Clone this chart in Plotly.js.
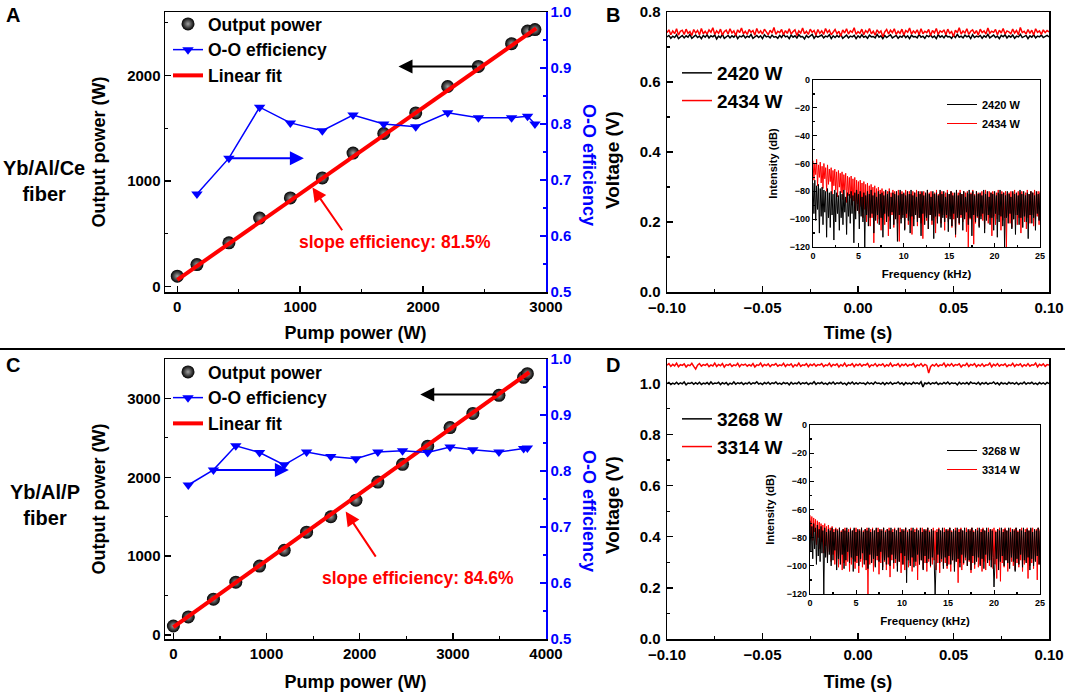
<!DOCTYPE html>
<html>
<head>
<meta charset="utf-8">
<script src="https://cdn.plot.ly/plotly-3.0.1.min.js"></script>
<style>
body { margin: 0; background: #fff; }
#fig { width: 1065px; height: 694px; }
</style>
</head>
<body>
<div id="fig"></div>
<script>
// ---- panel A : Yb/Al/Ce fiber ----
var pumpA = [0, 160, 420, 670, 920, 1180, 1430, 1680, 1940, 2200, 2450, 2720, 2850, 2910];
var outA = [100, 210, 415, 650, 840, 1030, 1265, 1450, 1645, 1895, 2085, 2300, 2420, 2434];
var effPumpA = [160, 420, 670, 920, 1180, 1430, 1680, 1940, 2200, 2450, 2720, 2850, 2910];
var effA = [0.675, 0.739, 0.830, 0.802, 0.788, 0.816, 0.800, 0.795, 0.820, 0.811, 0.811, 0.814, 0.800];
var fitXA = [0, 2920];
var fitYA = [65, 2445];

// ---- panel C : Yb/Al/P fiber ----
var pumpC = [0, 160, 430, 670, 925, 1190, 1430, 1690, 1960, 2195, 2460, 2730, 2970, 3215, 3495, 3760, 3800];
var outC = [115, 230, 455, 670, 875, 1075, 1305, 1500, 1710, 1940, 2165, 2395, 2630, 2810, 3040, 3268, 3314];
var effPumpC = [160, 430, 670, 925, 1190, 1430, 1690, 1960, 2195, 2460, 2730, 2970, 3215, 3495, 3760, 3800];
var effC = [0.775, 0.802, 0.845, 0.833, 0.811, 0.834, 0.826, 0.822, 0.834, 0.836, 0.833, 0.843, 0.838, 0.834, 0.840, 0.841];
var fitXC = [0, 3820];
var fitYC = [100, 3332];

// ---- time traces (V), one sample per ms from -0.1 s ----
var tStart = -0.1, tStep = 0.001;
var voltB2420 = [
0.729,0.733,0.725,0.731,0.727,0.735,0.724,0.730,0.733,0.726,0.732,0.728,0.736,0.725,0.730,0.734,0.727,0.731,0.724,0.733,
0.728,0.735,0.726,0.732,0.729,0.734,0.723,0.731,0.727,0.736,0.725,0.730,0.733,0.726,0.732,0.728,0.735,0.724,0.731,0.729,
0.734,0.726,0.731,0.728,0.736,0.725,0.730,0.733,0.727,0.732,0.724,0.735,0.729,0.731,0.726,0.734,0.728,0.730,0.725,0.733,
0.727,0.736,0.729,0.731,0.724,0.734,0.728,0.732,0.726,0.735,0.729,0.730,0.723,0.733,0.727,0.731,0.736,0.725,0.732,0.728,
0.730,0.734,0.726,0.731,0.729,0.735,0.724,0.732,0.727,0.733,0.728,0.736,0.725,0.730,0.734,0.726,0.731,0.729,0.733,0.724,
0.732,0.727,0.735,0.728,0.731,0.725,0.734,0.729,0.730,0.726,0.736,0.728,0.732,0.724,0.733,0.727,0.731,0.735,0.726,0.730,
0.733,0.725,0.731,0.728,0.735,0.727,0.732,0.724,0.734,0.729,0.730,0.726,0.736,0.728,0.731,0.725,0.733,0.729,0.734,0.727,
0.731,0.724,0.735,0.728,0.732,0.726,0.734,0.729,0.730,0.725,0.733,0.727,0.736,0.728,0.731,0.726,0.734,0.729,0.732,0.724,
0.735,0.727,0.731,0.729,0.733,0.725,0.732,0.728,0.736,0.726,0.730,0.734,0.727,0.731,0.724,0.733,0.729,0.735,0.726,0.732,
0.728,0.734,0.725,0.731,0.729,0.736,0.727,0.730,0.733,0.724,0.732,0.728,0.735,0.726,0.731,0.729,0.734,0.727,0.730,0.733,
0.729];
var voltB2434 = [
0.741,0.749,0.735,0.746,0.738,0.752,0.734,0.745,0.748,0.736,0.751,0.739,0.744,0.733,0.750,0.740,0.747,0.735,0.753,0.738,
0.745,0.737,0.749,0.742,0.755,0.736,0.746,0.739,0.751,0.734,0.744,0.748,0.737,0.752,0.740,0.746,0.733,0.749,0.741,0.754,
0.738,0.745,0.736,0.750,0.742,0.747,0.734,0.753,0.739,0.746,0.737,0.751,0.743,0.735,0.748,0.740,0.756,0.736,0.745,0.741,
0.750,0.735,0.747,0.739,0.752,0.737,0.744,0.749,0.733,0.746,0.740,0.754,0.738,0.745,0.736,0.751,0.742,0.747,0.734,0.750,
0.739,0.746,0.736,0.753,0.741,0.748,0.735,0.744,0.750,0.738,0.745,0.731,0.749,0.740,0.752,0.737,0.746,0.742,0.755,0.736,
0.744,0.739,0.751,0.735,0.747,0.741,0.753,0.738,0.745,0.734,0.749,0.740,0.746,0.729,0.743,0.750,0.737,0.748,0.741,0.752,
0.736,0.745,0.739,0.751,0.734,0.747,0.742,0.754,0.737,0.746,0.740,0.749,0.735,0.752,0.738,0.745,0.741,0.750,0.733,0.747,
0.740,0.753,0.736,0.746,0.742,0.749,0.735,0.751,0.739,0.744,0.730,0.748,0.741,0.755,0.737,0.746,0.740,0.752,0.736,0.745,
0.749,0.738,0.747,0.734,0.751,0.741,0.746,0.737,0.754,0.739,0.745,0.742,0.750,0.735,0.748,0.740,0.753,0.737,0.746,0.743,
0.738,0.751,0.740,0.747,0.735,0.756,0.741,0.745,0.737,0.750,0.739,0.748,0.734,0.752,0.742,0.746,0.736,0.749,0.741,0.747,
0.743];
var voltD3268 = [
0.999,1.003,0.995,1.001,0.997,1.004,0.996,1.002,0.998,1.005,0.994,1.001,0.999,1.003,0.996,1.002,0.997,1.004,0.995,1.001,
0.998,1.003,0.996,1.005,0.997,1.001,0.999,1.004,0.995,1.002,0.998,1.003,0.994,1.001,0.997,1.005,0.996,1.002,0.999,1.003,
0.995,1.001,0.998,1.004,0.996,1.002,0.999,1.006,0.997,1.001,0.995,1.003,0.998,1.004,0.996,1.002,0.999,1.005,0.997,1.001,
0.996,1.003,0.999,1.002,0.994,1.004,0.997,1.001,0.998,1.005,0.996,1.002,0.999,1.003,0.995,1.001,0.998,1.006,0.996,1.002,
0.999,1.004,0.997,1.001,0.995,1.003,0.998,1.005,0.996,1.002,0.999,1.004,0.997,1.001,0.994,1.003,0.998,1.005,0.996,1.002,
0.997,1.003,0.999,1.001,0.995,1.004,0.998,1.002,0.996,1.005,0.999,1.001,0.997,1.003,0.995,1.002,0.998,1.004,0.996,1.001,
0.999,1.005,0.997,1.002,0.994,1.003,0.998,1.001,0.996,1.004,0.999,1.002,0.997,1.006,0.986,1.001,0.998,1.003,0.996,1.002,
0.999,1.004,0.995,1.001,0.997,1.003,0.998,1.005,0.996,1.002,0.999,1.001,0.994,1.004,0.997,1.002,0.998,1.003,0.996,1.005,
0.999,1.001,0.997,1.004,0.995,1.002,0.998,1.003,0.996,1.001,0.999,1.005,0.997,1.002,0.994,1.003,0.998,1.001,0.996,1.004,
0.999,1.002,0.997,1.003,0.995,1.001,0.998,1.005,0.996,1.002,0.999,1.004,0.997,1.001,0.995,1.003,0.998,1.002,0.996,1.003,
0.999];
var voltD3314 = [
1.071,1.077,1.066,1.074,1.068,1.079,1.065,1.073,1.070,1.076,1.064,1.072,1.069,1.078,1.066,1.056,1.071,1.077,1.067,1.073,
1.070,1.076,1.065,1.072,1.068,1.079,1.066,1.074,1.069,1.077,1.063,1.073,1.070,1.076,1.066,1.072,1.069,1.078,1.065,1.074,
1.071,1.075,1.067,1.073,1.068,1.077,1.064,1.072,1.070,1.079,1.066,1.074,1.069,1.076,1.065,1.073,1.071,1.077,1.067,1.072,
1.069,1.078,1.066,1.074,1.070,1.076,1.064,1.073,1.068,1.079,1.066,1.072,1.070,1.077,1.065,1.074,1.069,1.076,1.067,1.073,
1.071,1.077,1.065,1.072,1.069,1.078,1.066,1.074,1.070,1.076,1.064,1.073,1.068,1.079,1.066,1.072,1.070,1.077,1.065,1.074,
1.069,1.076,1.067,1.073,1.071,1.078,1.064,1.072,1.069,1.077,1.066,1.074,1.070,1.076,1.065,1.073,1.068,1.079,1.066,1.072,
1.070,1.077,1.065,1.074,1.069,1.076,1.067,1.073,1.071,1.078,1.064,1.072,1.069,1.077,1.066,1.074,1.070,1.040,1.065,1.073,
1.068,1.076,1.066,1.072,1.070,1.079,1.065,1.074,1.069,1.077,1.067,1.073,1.071,1.076,1.064,1.072,1.069,1.078,1.066,1.074,
1.070,1.077,1.065,1.073,1.068,1.076,1.066,1.072,1.071,1.079,1.064,1.074,1.069,1.077,1.067,1.073,1.070,1.076,1.065,1.072,
1.069,1.078,1.066,1.074,1.070,1.076,1.065,1.073,1.068,1.077,1.067,1.072,1.071,1.079,1.064,1.074,1.069,1.076,1.066,1.073,
1.071];

// ---- inset spectra (dB), one sample per 0.1 kHz from 0 ----
var fStart = 0, fStep = 0.1;
var specB2420 = [
-74,-96,-72,-101,-76,-93,-75,-110,-78,-98, -77,-104,-79,-95,-80,-113,-78,-99,-81,-106,
-80,-97,-82,-115,-79,-102,-81,-96,-83,-108, -80,-99,-82,-104,-79,-95,-84,-111,-81,-98,
-82,-103,-80,-96,-83,-117,-81,-100,-79,-94, -82,-107,-80,-98,-84,-102,-81,-120,-83,-97,
-80,-105,-82,-99,-79,-96,-83,-110,-81,-101, -84,-97,-80,-104,-82,-99,-81,-113,-83,-96,
-79,-102,-82,-98,-80,-107,-84,-95,-81,-104, -82,-100,-80,-116,-83,-97,-79,-103,-82,-99,
-81,-108,-83,-96,-80,-101,-82,-110,-79,-98, -83,-105,-81,-97,-84,-102,-80,-99,-82,-112,
-80,-96,-83,-104,-81,-99,-79,-107,-82,-97, -84,-101,-80,-114,-82,-98,-81,-103,-83,-96,
-79,-106,-82,-99,-80,-102,-84,-97,-81,-109, -82,-100,-80,-105,-83,-96,-81,-111,-79,-99,
-83,-103,-81,-97,-82,-108,-80,-100,-84,-95, -81,-104,-79,-99,-82,-112,-80,-97,-83,-102,
-80,-98,-82,-106,-81,-100,-83,-96,-79,-110, -82,-101,-80,-97,-84,-104,-81,-99,-82,-108,
-80,-96,-83,-113,-81,-102,-79,-98,-82,-105, -81,-120,-83,-99,-80,-103,-82,-96,-84,-107,
-80,-100,-82,-111,-81,-97,-83,-104,-79,-99, -82,-106,-80,-98,-83,-102,-81,-114,-82,-97,
-80,-103,-81,-99,-83,-108,-80,-96,-82,-101, -81];
var specB2434 = [
-58,-72,-60,-68,-57,-76,-61,-70,-59,-74, -62,-78,-60,-71,-63,-80,-61,-75,-64,-73,
-63,-82,-65,-76,-64,-79,-66,-84,-65,-77, -67,-81,-66,-86,-68,-79,-67,-88,-69,-83,
-70,-85,-69,-90,-71,-87,-70,-94,-72,-89, -73,-96,-72,-91,-74,-99,-73,-93,-75,-102,
-74,-97,-76,-105,-75,-99,-77,-117,-76,-98, -78,-103,-77,-100,-79,-108,-78,-97,-80,-104,
-79,-99,-80,-112,-78,-101,-81,-97,-79,-106, -80,-98,-82,-103,-79,-116,-81,-100,-80,-97,
-82,-107,-79,-99,-81,-104,-80,-98,-82,-111, -80,-100,-81,-97,-79,-105,-82,-99,-80,-103,
-81,-114,-80,-98,-82,-101,-79,-107,-81,-97, -80,-104,-82,-99,-81,-110,-79,-100,-82,-98,
-81,-103,-80,-97,-82,-108,-81,-99,-79,-102, -82,-98,-80,-106,-81,-100,-83,-113,-80,-97,
-81,-104,-79,-99,-82,-102,-80,-98,-81,-109, -80,-120,-82,-100,-81,-97,-79,-118,-82,-103,
-80,-99,-81,-105,-82,-98,-80,-101,-81,-107, -79,-97,-82,-103,-80,-99,-81,-112,-80,-98,
-82,-104,-81,-100,-79,-97,-82,-108,-80,-101, -81,-99,-80,-120,-82,-98,-81,-103,-80,-106,
-81,-100,-79,-97,-82,-104,-80,-99,-81,-110, -80,-98,-82,-102,-81,-107,-79,-99,-82,-103,
-80,-97,-81,-105,-79,-100,-82,-98,-80,-104, -80];
var specD3268 = [
-68,-90,-72,-95,-70,-88,-73,-99,-71,-93, -74,-97,-72,-91,-75,-120,-73,-94,-76,-98,
-74,-92,-75,-100,-73,-96,-76,-89,-74,-103, -75,-95,-73,-99,-76,-92,-74,-102,-75,-96,
-73,-90,-76,-98,-74,-94,-75,-104,-73,-97, -76,-93,-74,-100,-75,-95,-73,-91,-76,-99,
-74,-96,-75,-102,-73,-92,-76,-98,-74,-95, -75,-101,-73,-93,-76,-97,-74,-90,-75,-103,
-73,-96,-76,-99,-74,-94,-75,-100,-73,-92, -76,-98,-74,-95,-75,-104,-73,-97,-76,-91,
-74,-99,-75,-93,-73,-112,-76,-96,-74,-100, -75,-94,-73,-101,-76,-97,-74,-92,-75,-99,
-73,-96,-76,-103,-74,-93,-75,-98,-73,-95, -76,-100,-74,-94,-75,-97,-120,-99,-76,-92,
-74,-98,-75,-95,-73,-102,-76,-94,-74,-100, -75,-93,-73,-99,-76,-96,-74,-104,-75,-97,
-73,-95,-76,-101,-74,-92,-75,-98,-73,-94, -76,-100,-74,-96,-75,-103,-73,-93,-76,-99,
-74,-97,-75,-94,-73,-100,-76,-95,-74,-102, -75,-92,-73,-98,-76,-96,-74,-101,-75,-94,
-115,-99,-76,-95,-74,-103,-75,-97,-73,-93, -76,-100,-74,-96,-75,-98,-73,-102,-76,-94,
-74,-97,-75,-104,-73,-95,-76,-99,-74,-92, -75,-101,-73,-96,-76,-98,-74,-94,-75,-103,
-73,-95,-76,-100,-74,-97,-75,-93,-73,-99, -75];
var specD3314 = [
-64,-78,-65,-82,-66,-76,-67,-85,-68,-80, -69,-88,-70,-83,-71,-91,-70,-86,-72,-94,
-71,-90,-73,-97,-72,-92,-74,-99,-73,-95, -74,-101,-73,-96,-75,-103,-74,-98,-73,-100,
-75,-97,-74,-104,-73,-99,-75,-95,-74,-102, -73,-98,-75,-105,-74,-97,-73,-101,-75,-96,
-74,-103,-73,-120,-75,-99,-74,-97,-73,-104, -75,-100,-74,-96,-73,-106,-75,-98,-74,-101,
-73,-97,-75,-103,-74,-99,-73,-108,-75,-96, -74,-102,-73,-98,-75,-100,-74,-97,-73,-105,
-75,-99,-74,-103,-73,-96,-75,-101,-74,-98, -73,-104,-75,-97,-74,-100,-73,-110,-75,-99,
-74,-96,-73,-102,-75,-98,-74,-104,-73,-97, -75,-101,-74,-99,-73,-96,-75,-103,-74,-98,
-73,-105,-75,-97,-74,-100,-73,-98,-75,-102, -74,-99,-73,-104,-75,-96,-74,-101,-73,-97,
-75,-112,-74,-98,-73,-103,-75,-99,-74,-96, -73,-100,-75,-97,-74,-105,-73,-98,-75,-102,
-74,-96,-73,-101,-75,-99,-74,-104,-73,-97, -75,-103,-74,-98,-73,-100,-75,-96,-74,-102,
-73,-99,-75,-109,-74,-97,-73,-111,-75,-98, -74,-101,-73,-96,-75,-104,-74,-99,-73,-97,
-75,-100,-74,-103,-73,-98,-75,-101,-74,-96, -73,-104,-75,-99,-74,-97,-73,-109,-75,-100,
-74,-98,-73,-102,-75,-96,-74,-110,-73,-99, -74];

var FONT = 'Arial, "Liberation Sans", sans-serif';
var BLUE = '#0000ff', RED = '#ff0000';

// pixel -> paper helpers (page is 1065 x 694, no margins)
function px(x) { return x / 1065; }
function py(y) { return 1 - y / 694; }

function axis(o) {
  var a = {
    showline: true, linecolor: 'black', linewidth: 1.5,
    ticks: 'inside', ticklen: 6, tickwidth: 1.5, tickcolor: 'black',
    showgrid: false, zeroline: false,
    tickfont: {family: FONT, size: 15, weight: 'bold', color: 'black'}
  };
  for (var k in o) a[k] = o[k];
  return a;
}
function minor(d, len, color) {
  return {ticks: 'inside', ticklen: len || 3, tickwidth: 1.2, tickcolor: color || 'black', dtick: d, showgrid: false};
}
function titleFont(size, color) {
  return {family: FONT, size: size, weight: 'bold', color: color || 'black'};
}

var sphere = {symbol: 'circle', size: 13, color: '#000',
  gradient: {type: 'radial', color: '#a0a0a0'}, line: {width: 0}};

var data = [
  // A
  {x: pumpA, y: outA, xaxis: 'x', yaxis: 'y', mode: 'markers', name: 'Output power',
   marker: sphere, legend: 'legend'},
  {x: effPumpA, y: effA, xaxis: 'x', yaxis: 'y2', mode: 'lines+markers', name: 'O-O efficiency',
   line: {color: BLUE, width: 1.5}, marker: {symbol: 'triangle-down', size: 10, color: BLUE}, legend: 'legend'},
  {x: fitXA, y: fitYA, xaxis: 'x', yaxis: 'y', mode: 'lines', name: 'Linear fit',
   line: {color: RED, width: 4}, legend: 'legend'},
  // B main
  {y: voltB2420, x0: tStart, dx: tStep, xaxis: 'x2', yaxis: 'y3', mode: 'lines', name: '2420 W',
   line: {color: 'black', width: 1.5}, legend: 'legend2'},
  {y: voltB2434, x0: tStart, dx: tStep, xaxis: 'x2', yaxis: 'y3', mode: 'lines', name: '2434 W',
   line: {color: RED, width: 1.5}, legend: 'legend2'},
  // C
  {x: pumpC, y: outC, xaxis: 'x3', yaxis: 'y4', mode: 'markers', name: 'Output power',
   marker: sphere, legend: 'legend3'},
  {x: effPumpC, y: effC, xaxis: 'x3', yaxis: 'y5', mode: 'lines+markers', name: 'O-O efficiency',
   line: {color: BLUE, width: 1.5}, marker: {symbol: 'triangle-down', size: 10, color: BLUE}, legend: 'legend3'},
  {x: fitXC, y: fitYC, xaxis: 'x3', yaxis: 'y4', mode: 'lines', name: 'Linear fit',
   line: {color: RED, width: 4}, legend: 'legend3'},
  // D main
  {y: voltD3268, x0: tStart, dx: tStep, xaxis: 'x4', yaxis: 'y6', mode: 'lines', name: '3268 W',
   line: {color: 'black', width: 1.5}, legend: 'legend4'},
  {y: voltD3314, x0: tStart, dx: tStep, xaxis: 'x4', yaxis: 'y6', mode: 'lines', name: '3314 W',
   line: {color: RED, width: 1.5}, legend: 'legend4'},
  // B inset (red drawn first so black sits on top)
  {y: specB2434, x0: fStart, dx: fStep, xaxis: 'x5', yaxis: 'y7', mode: 'lines', name: '2434 W',
   line: {color: RED, width: 1}, legend: 'legend5', legendrank: 2},
  {y: specB2420, x0: fStart, dx: fStep, xaxis: 'x5', yaxis: 'y7', mode: 'lines', name: '2420 W',
   line: {color: 'black', width: 1}, legend: 'legend5', legendrank: 1},
  // D inset
  {y: specD3314, x0: fStart, dx: fStep, xaxis: 'x6', yaxis: 'y8', mode: 'lines', name: '3314 W',
   line: {color: RED, width: 1}, legend: 'legend6', legendrank: 2},
  {y: specD3268, x0: fStart, dx: fStep, xaxis: 'x6', yaxis: 'y8', mode: 'lines', name: '3268 W',
   line: {color: 'black', width: 1}, legend: 'legend6', legendrank: 1}
];

var domAx = [px(165), px(546)], domBx = [px(667), px(1049)];
var domTop = [py(292), py(12)], domBot = [py(639), py(359)];
var insetFont = {family: FONT, size: 9, weight: 'bold', color: 'black'};

function legendAt(x, y, size) {
  return {x: x, y: y, xanchor: 'left', yanchor: 'top', bgcolor: 'rgba(0,0,0,0)',
    font: {family: FONT, size: size, weight: 'bold', color: 'black'},
    tracegroupgap: 0, itemwidth: 30, traceorder: 'normal'};
}
function sideTitle(x, y, text, angle, size, color) {
  return {xref: 'paper', yref: 'paper', x: px(x), y: py(y), xanchor: 'center', yanchor: 'middle',
    showarrow: false, textangle: angle, text: text, font: titleFont(size, color)};
}

var layout = {
  width: 1065, height: 694,
  margin: {l: 0, r: 0, t: 0, b: 0},
  paper_bgcolor: 'white', plot_bgcolor: 'rgba(0,0,0,0)',
  font: {family: FONT, weight: 'bold', color: 'black'},
  showlegend: true,
  // A
  xaxis: axis({domain: domAx, anchor: 'y', range: [-100, 3000], dtick: 1000, tick0: 0, mirror: true,
    minor: minor(500), title: {text: 'Pump power (W)', font: titleFont(18), standoff: 13}}),
  yaxis: axis({domain: domTop, anchor: 'x', range: [-50, 2600], dtick: 1000, tick0: 0,
    minor: minor(500), title: {text: 'Output power (W)', font: titleFont(18), standoff: 17}}),
  yaxis2: axis({overlaying: 'y', side: 'right', anchor: 'x', range: [0.5, 1.0], dtick: 0.1, tick0: 0.5,
    tickformat: '.1f', linecolor: BLUE, tickcolor: BLUE,
    tickfont: {family: FONT, size: 15, weight: 'bold', color: BLUE}, minor: minor(0.05, 3, BLUE)}),
  // B
  xaxis2: axis({domain: domBx, anchor: 'y3', range: [-0.1, 0.1], dtick: 0.05, tick0: 0, tickformat: '.2f', mirror: true,
    minor: minor(0.025), ticklabelstandoff: 1, title: {text: 'Time (s)', font: titleFont(18), standoff: 12}}),
  yaxis3: axis({domain: domTop, anchor: 'x2', range: [0, 0.8], dtick: 0.2, tick0: 0, tickformat: '.1f', mirror: true,
    minor: minor(0.1), ticklabelstandoff: 2}),
  // C
  xaxis3: axis({domain: domAx, anchor: 'y4', range: [-90, 4000], dtick: 1000, tick0: 0, mirror: true,
    minor: minor(500), title: {text: 'Pump power (W)', font: titleFont(18), standoff: 15}}),
  yaxis4: axis({domain: domBot, anchor: 'x3', range: [-50, 3500], dtick: 1000, tick0: 0,
    minor: minor(500), title: {text: 'Output power (W)', font: titleFont(18), standoff: 17}}),
  yaxis5: axis({overlaying: 'y4', side: 'right', anchor: 'x3', range: [0.5, 1.0], dtick: 0.1, tick0: 0.5,
    tickformat: '.1f', linecolor: BLUE, tickcolor: BLUE,
    tickfont: {family: FONT, size: 15, weight: 'bold', color: BLUE}, minor: minor(0.05, 3, BLUE)}),
  // D
  xaxis4: axis({domain: domBx, anchor: 'y6', range: [-0.1, 0.1], dtick: 0.05, tick0: 0, tickformat: '.2f', mirror: true,
    minor: minor(0.025), ticklabelstandoff: 1, title: {text: 'Time (s)', font: titleFont(18), standoff: 14}}),
  yaxis6: axis({domain: domBot, anchor: 'x4', range: [0, 1.095], dtick: 0.2, tick0: 0, tickformat: '.1f', mirror: true,
    minor: minor(0.1), ticklabelstandoff: 2}),
  // B inset
  xaxis5: axis({domain: [px(813), px(1040)], anchor: 'y7', range: [0, 25], dtick: 5, tick0: 0, mirror: true,
    linewidth: 1.2, ticklen: 4, tickwidth: 1, tickfont: insetFont, minor: minor(2.5, 2),
    title: {text: 'Frequency (kHz)', font: titleFont(11.5), standoff: 10}}),
  yaxis7: axis({domain: [py(247), py(80)], anchor: 'x5', range: [-120, 0], dtick: 20, tick0: 0, mirror: true,
    linewidth: 1.2, ticklen: 4, tickwidth: 1, tickfont: insetFont, minor: minor(10, 2),
    title: {text: 'Intensity (dB)', font: titleFont(11), standoff: 9}}),
  // D inset
  xaxis6: axis({domain: [px(810), px(1040)], anchor: 'y8', range: [0, 25], dtick: 5, tick0: 0, mirror: true,
    linewidth: 1.2, ticklen: 4, tickwidth: 1, tickfont: insetFont, minor: minor(2.5, 2),
    title: {text: 'Frequency (kHz)', font: titleFont(11.5), standoff: 10}}),
  yaxis8: axis({domain: [py(594), py(425)], anchor: 'x6', range: [-120, 0], dtick: 20, tick0: 0, mirror: true,
    linewidth: 1.2, ticklen: 4, tickwidth: 1, tickfont: insetFont, minor: minor(10, 2),
    title: {text: 'Intensity (dB)', font: titleFont(11), standoff: 9}}),

  legend: legendAt(px(168), py(6), 17.5),
  legend2: legendAt(px(677), py(54), 19),
  legend3: legendAt(px(168), py(354), 17.5),
  legend4: legendAt(px(677), py(400), 19),
  legend5: legendAt(px(942), py(90), 11),
  legend6: legendAt(px(942), py(436), 11),

  shapes: [
    {type: 'line', xref: 'paper', yref: 'paper', x0: 0, x1: 1, y0: py(349), y1: py(349),
     line: {color: 'black', width: 2}}
  ],
  annotations: [
    // panel letters and fiber labels
    {xref: 'paper', yref: 'paper', x: px(4), y: py(2), xanchor: 'left', yanchor: 'top', showarrow: false,
     text: 'A', font: titleFont(20)},
    {xref: 'paper', yref: 'paper', x: px(604), y: py(2), xanchor: 'left', yanchor: 'top', showarrow: false,
     text: 'B', font: titleFont(20)},
    {xref: 'paper', yref: 'paper', x: px(4), y: py(352), xanchor: 'left', yanchor: 'top', showarrow: false,
     text: 'C', font: titleFont(20)},
    {xref: 'paper', yref: 'paper', x: px(604), y: py(352), xanchor: 'left', yanchor: 'top', showarrow: false,
     text: 'D', font: titleFont(20)},
    {xref: 'paper', yref: 'paper', x: px(44), y: py(181), xanchor: 'center', yanchor: 'middle', showarrow: false,
     text: 'Yb/Al/Ce<br>fiber', font: titleFont(20)},
    {xref: 'paper', yref: 'paper', x: px(45), y: py(505), xanchor: 'center', yanchor: 'middle', showarrow: false,
     text: 'Yb/Al/P<br>fiber', font: titleFont(20)},
    // right axis titles of A / C and left axis titles of B / D
    sideTitle(589, 165, 'O-O efficiency', 90, 18, BLUE),
    sideTitle(589, 511, 'O-O efficiency', 90, 18, BLUE),
    sideTitle(612, 160, 'Voltage (V)', -90, 19),
    sideTitle(612, 505, 'Voltage (V)', -90, 19),
    // A arrows and slope text
    {xref: 'x', yref: 'y', x: 1800, y: 2085, axref: 'x', ayref: 'y', ax: 2450, ay: 2085, text: '',
     showarrow: true, arrowhead: 2, arrowsize: 1.4, arrowwidth: 2, arrowcolor: 'black'},
    {xref: 'x', yref: 'y2', x: 1030, y: 0.739, axref: 'x', ayref: 'y2', ax: 420, ay: 0.739, text: '',
     showarrow: true, arrowhead: 2, arrowsize: 1.4, arrowwidth: 2, arrowcolor: BLUE},
    {xref: 'x', yref: 'y', x: 1100, y: 940, axref: 'x', ayref: 'y', ax: 1350, ay: 520, text: '',
     showarrow: true, arrowhead: 2, arrowsize: 1.4, arrowwidth: 2, arrowcolor: RED},
    {xref: 'x', yref: 'y', x: 1772, y: 425, showarrow: false,
     text: 'slope efficiency: 81.5%', font: titleFont(17.5, RED)},
    // C arrows and slope text
    {xref: 'x3', yref: 'y4', x: 2650, y: 3050, axref: 'x3', ayref: 'y4', ax: 3484, ay: 3050, text: '',
     showarrow: true, arrowhead: 2, arrowsize: 1.4, arrowwidth: 2, arrowcolor: 'black'},
    {xref: 'x3', yref: 'y5', x: 1240, y: 0.802, axref: 'x3', ayref: 'y5', ax: 430, ay: 0.802, text: '',
     showarrow: true, arrowhead: 2, arrowsize: 1.4, arrowwidth: 2, arrowcolor: BLUE},
    {xref: 'x3', yref: 'y4', x: 1850, y: 1565, axref: 'x3', ayref: 'y4', ax: 2183, ay: 975, text: '',
     showarrow: true, arrowhead: 2, arrowsize: 1.4, arrowwidth: 2, arrowcolor: RED},
    {xref: 'x3', yref: 'y4', x: 2624, y: 721, showarrow: false,
     text: 'slope efficiency: 84.6%', font: titleFont(17.5, RED)}
  ]
};

Plotly.newPlot('fig', data, layout, {staticPlot: true, displayModeBar: false});
</script>
</body>
</html>
